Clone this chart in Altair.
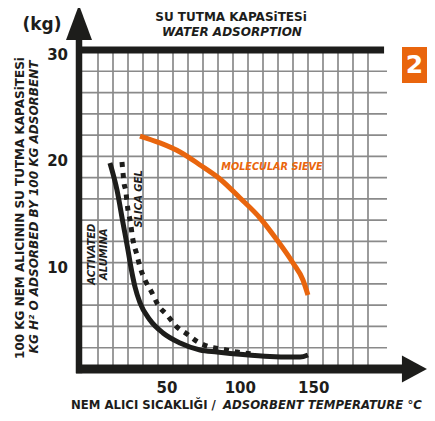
import altair as alt
import pandas as pd

# ---- data ----
alumina_x = [11.1, 15.9, 20.0, 23.4, 25.5, 28.2, 31.6, 38.4, 47.3, 58.9, 72.5, 84.1, 101.8, 120.2, 133.9, 140.7, 146.1]
alumina_y = [19.37, 16.83, 13.73, 11.19, 9.50, 7.71, 6.21, 4.61, 3.39, 2.45, 1.79, 1.60, 1.36, 1.18, 1.13, 1.13, 1.32]

silica_x = [19.3, 20.0, 20.7, 22.0, 22.7, 23.4, 24.8, 26.8, 29.5, 31.6, 35.0, 39.8, 43.9, 50.0, 56.1, 63.6, 71.1, 79.3, 87.5, 97.7, 108.0]
silica_y = [19.47, 18.43, 17.49, 16.65, 15.71, 14.95, 14.01, 12.13, 10.72, 9.59, 8.37, 7.15, 6.02, 5.08, 4.04, 3.29, 2.54, 2.07, 1.88, 1.60, 1.41]

sieve_x = [31.6, 45.2, 58.9, 72.5, 86.1, 99.8, 113.4, 125.0, 135.9, 142.7, 146.1]
sieve_y = [21.91, 21.26, 20.41, 19.19, 17.87, 16.08, 14.20, 12.13, 9.97, 8.37, 6.96]

x_ticks = [50, 100, 150]
y_ticks = [10, 20, 30]
grid_cols = list(range(19))
grid_rows = [2, 4, 6, 8, 10, 12, 14, 16, 18, 20, 22, 24, 26, 28]

# ---- styling ----
FONT = "DejaVu Sans"
DARK = "#1d1d1b"
ORANGE = "#e9650d"
GRID = "#8a8a8a"

XS = alt.Scale(domain=[-10, 200], nice=False, zero=False)
YS = alt.Scale(domain=[0, 30], nice=False, zero=False)
GS = alt.Scale(domain=[-1.267, 19.267], nice=False, zero=False)

# vertical grid (own scale)
vgrid = alt.Chart(pd.DataFrame({"g": grid_cols, "y0": 0, "y1": 30})).mark_rule(
    color=GRID, strokeWidth=1.7).encode(
    x=alt.X("g:Q", scale=GS, axis=None),
    y=alt.Y("y0:Q", scale=YS, axis=None),
    y2="y1:Q")

hgrid = alt.Chart(pd.DataFrame({"v": grid_rows, "x0": -10, "x1": 200})).mark_rule(
    color=GRID, strokeWidth=1.7).encode(
    y=alt.Y("v:Q", scale=YS, axis=None),
    x=alt.X("x0:Q", scale=XS, axis=None),
    x2="x1:Q")

frame_df = pd.DataFrame({
    "x": [-12.0, -10.0, -12.0],
    "x2": [198.0, -10.0, 212.0],
    "y": [30.0, -0.4, 0.0],
    "y2": [30.0, 30.94, 0.0],
    "w": [7.0, 6.5, 9.0],
})
frame = alt.Chart(frame_df).mark_rule(color=DARK, strokeCap="butt").encode(
    x=alt.X("x:Q", scale=XS, axis=None), x2="x2:Q",
    y=alt.Y("y:Q", scale=YS, axis=None), y2="y2:Q",
    strokeWidth=alt.StrokeWidth("w:Q", scale=None))

arrow_up = alt.Chart(pd.DataFrame({"x": [-10.0], "y": [32.59]})).mark_point(
    shape="M0,-1L0.743,1L-0.743,1Z", size=1225, filled=True, color=DARK,
    opacity=1, strokeWidth=0).encode(
    x=alt.X("x:Q", scale=XS, axis=None), y=alt.Y("y:Q", scale=YS, axis=None))

arrow_right = alt.Chart(pd.DataFrame({"x": [218.7], "y": [0.0]})).mark_point(
    shape="M1,0L-1,-1.08L-1,1.08Z", size=625, filled=True, color=DARK,
    opacity=1, strokeWidth=0).encode(
    x=alt.X("x:Q", scale=XS, axis=None), y=alt.Y("y:Q", scale=YS, axis=None))

def curve(xs, ys, **kw):
    return alt.Chart(pd.DataFrame({"x": xs, "y": ys})).mark_line(
        interpolate="monotone", strokeWidth=5, **kw).encode(
        x=alt.X("x:Q", scale=XS, axis=None), y=alt.Y("y:Q", scale=YS, axis=None))

silica = curve(silica_x, silica_y, color=DARK, strokeDash=[5, 6], strokeCap="butt")
alumina = curve(alumina_x, alumina_y, color=DARK)
sieve = curve(sieve_x, sieve_y, color=ORANGE)

ylabels = alt.Chart(pd.DataFrame({"v": y_ticks})).mark_text(
    font=FONT, fontSize=15, fontWeight="bold", color=DARK, align="right",
    baseline="middle", dy=5).encode(
    y=alt.Y("v:Q", scale=YS, axis=None), x=alt.value(-11), text="v:N")

xlabels = alt.Chart(pd.DataFrame({"v": x_ticks})).mark_text(
    font=FONT, fontSize=15, fontWeight="bold", color=DARK, align="center",
    baseline="middle").encode(
    x=alt.X("v:Q", scale=XS, axis=None), y=alt.value(338), text="v:N")

def note(t, x, y, size, color=DARK, italic=False, angle=0):
    return alt.Chart(pd.DataFrame({"t": [t], "x": [x], "y": [y]})).mark_text(
        font=FONT, fontSize=size, fontWeight="bold",
        fontStyle="italic" if italic else "normal", color=color,
        angle=angle, align="center", baseline="middle").encode(
        x=alt.X("x:Q", scale=XS, axis=None), y=alt.Y("y:Q", scale=YS, axis=None),
        text="t:N")

n_act = note("ACTIVATED", -1.14, 10.8, 10, italic=True, angle=270)
n_alu = note("ALUMINA", 7.05, 10.8, 10, italic=True, angle=270)
n_sil = note("SLICA GEL", 31.0, 16.0, 10, italic=True, angle=270)
n_mol = note("MOLECULAR SIEVE", 121.6, 19.0, 9.7, color=ORANGE, italic=True)

def title(t, x, y, size, italic=False, align="center", angle=0, color=DARK):
    return alt.Chart(pd.DataFrame({"t": [t]})).mark_text(
        font=FONT, fontSize=size, fontWeight="bold",
        fontStyle="italic" if italic else "normal", color=color,
        align=align, baseline="middle", angle=angle).encode(
        x=alt.value(x), y=alt.value(y), text="t:N")

t_kg = title("(kg)", -37, -25, 17)
t_1 = title("SU TUTMA KAPASiTESi", 152, -33, 12)
t_2 = title("WATER ADSORPTION", 153, -18, 12, italic=True)
t_y1 = title("100 KG NEM ALICININ SU TUTMA KAPASiTESi", -59, 158, 12, angle=270)
t_y2 = title("KG H² O ADSORBED BY 100 KG ADSORBENT", -45, 157, 12, italic=True, angle=270)
t_x1 = title("NEM ALICI SICAKLIĞI /", -8, 355, 11.7, align="left")
t_x2 = title("ADSORBENT TEMPERATURE °C", 144, 355, 11.7, italic=True, align="left")

box = alt.Chart(pd.DataFrame({"k": [2]})).mark_rect(color=ORANGE).encode(
    x=alt.value(323), x2=alt.value(348), y=alt.value(-3), y2=alt.value(33))
box_t = title("2", 335.5, 15, 25, color="white")

inner = alt.layer(hgrid, frame, arrow_up, arrow_right, silica, alumina, sieve,
                  ylabels, xlabels, n_act, n_alu, n_sil, n_mol,
                  t_kg, t_1, t_2, t_y1, t_y2, t_x1, t_x2, box, box_t)

chart = alt.layer(vgrid, inner).resolve_scale(x="independent").properties(
    width=308, height=319,
    autosize=alt.AutoSizeParams(type="none"),
    padding={"left": 71, "top": 42, "right": 40, "bottom": 44},
    background="white",
).configure_view(stroke=None)

chart.save("out.html", embed_options={"renderer": "svg", "actions": False})
